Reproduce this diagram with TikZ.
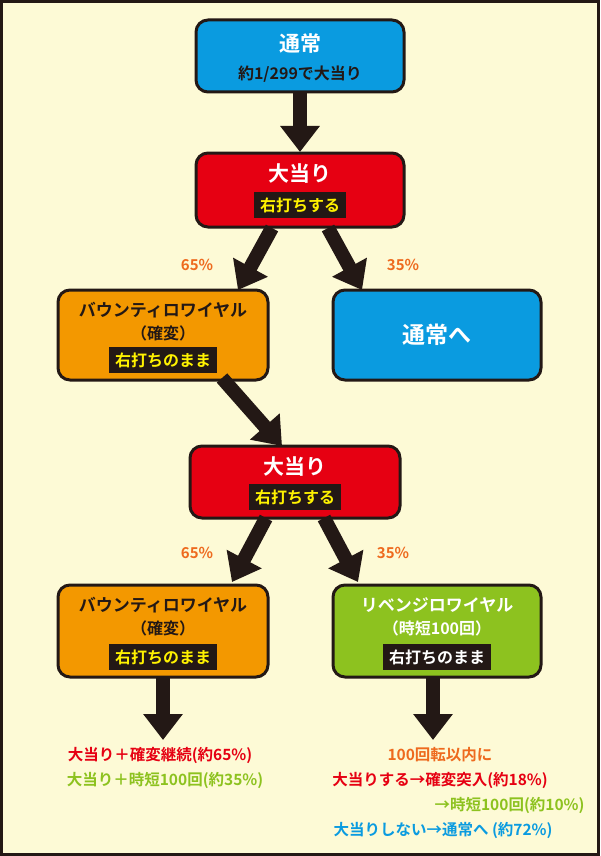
\documentclass[tikz,border=0pt]{standalone}
\usepackage{fontspec}
\setmainfont{Noto Sans CJK JP}[BoldFont={* Bold}]
\usetikzlibrary{arrows.meta}
\definecolor{bg}{HTML}{FDFAD6}
\definecolor{bblue}{HTML}{0A9BE0}
\definecolor{bred}{HTML}{E60012}
\definecolor{borange}{HTML}{F39800}
\definecolor{bgreen}{HTML}{8DC21F}
\definecolor{torange}{HTML}{EE6A1E}
\definecolor{dark}{HTML}{231815}
\begin{document}
\begin{tikzpicture}[x=1pt,y=-1pt,
 box/.style={draw=dark,line width=3pt,rounded corners=12pt},
 big/.style={arrow,line width=14pt,-{Triangle[length=26pt,width=38pt]}},
 arrow/.style={draw=dark},
 ttl/.style={font=\bfseries\fontsize{21}{21}\selectfont,text=white},
 sub/.style={font=\bfseries\fontsize{16}{16}\selectfont,text=dark},
 lab/.style={fill=dark,font=\bfseries\fontsize{16}{16}\selectfont,inner xsep=6pt,inner ysep=3pt,minimum height=26pt},
 pct/.style={font=\bfseries\fontsize{15}{15}\selectfont,text=torange},
 res/.style={font=\bfseries\fontsize{15.5}{15.5}\selectfont}]
\draw[fill=bg,draw=dark,line width=3pt] (1.5,1.5) rectangle (598.5,854.5);
\useasboundingbox (0,0) rectangle (600,856);
% box 1
\path[box,fill=bblue] (196,20) rectangle (404,92);
\node[ttl] (t1) at (300,44) {通常};
\node[sub] (s1) at (300,74) {約1/299で大当り};
\coordinate (a1s) at (300,92); \coordinate (a1e) at (300,152);
\draw[big] (a1s) -- (a1e);
% box 2
\path[box,fill=bred] (196,153) rectangle (404,227);
\node[ttl] (t2) at (300,174) {大当り};
\node[lab,text=yellow] (l2) at (300,205) {右打ちする};
\coordinate (a2s) at (272,228); \coordinate (a2e) at (238,290);
\coordinate (a3s) at (328,228); \coordinate (a3e) at (362,290);
\draw[big] (a2s) -- (a2e); \draw[big] (a3s) -- (a3e);
\node[pct] (p1) at (197,265) {65\%};
\node[pct] (p2) at (403,265) {35\%};
% box 3
\path[box,fill=borange] (58,290) rectangle (268,380);
\node[sub,font=\bfseries\fontsize{17}{17}\selectfont] (t3) at (163,310) {バウンティロワイヤル};
\node[sub] (s3) at (163,333) {（確変）};
\node[lab,text=yellow] (l3) at (163,360) {右打ちのまま};
% box 4
\path[box,fill=bblue] (333,290) rectangle (541,380);
\node[ttl,font=\bfseries\fontsize{23}{23}\selectfont] (t4) at (437,335) {通常へ};
\coordinate (a4s) at (222,378); \coordinate (a4e) at (282,446);
\draw[big] (a4s) -- (a4e);
% box 5
\path[box,fill=bred] (190,446) rectangle (400,518);
\node[ttl] (t5) at (295,467) {大当り};
\node[lab,text=yellow] (l5) at (295,497) {右打ちする};
\coordinate (a5s) at (266,518); \coordinate (a5e) at (232,582);
\coordinate (a6s) at (324,518); \coordinate (a6e) at (358,582);
\draw[big] (a5s) -- (a5e); \draw[big] (a6s) -- (a6e);
\node[pct] (p3) at (197,553) {65\%};
\node[pct] (p4) at (393,553) {35\%};
% box 6
\path[box,fill=borange] (58,585) rectangle (268,677);
\node[sub,font=\bfseries\fontsize{17}{17}\selectfont] (t6) at (163,605) {バウンティロワイヤル};
\node[sub] (s6) at (163,628) {（確変）};
\node[lab,text=yellow] (l6) at (163,657) {右打ちのまま};
% box 7
\path[box,fill=bgreen] (333,585) rectangle (541,677);
\node[sub,font=\bfseries\fontsize{17}{17}\selectfont,text=white] (t7) at (437,605) {リベンジロワイヤル};
\node[sub,text=white] (s7) at (437,628) {（時短100回）};
\node[lab,text=white] (l7) at (437,657) {右打ちのまま};
\coordinate (a7s) at (163,677); \coordinate (a7e) at (163,740);
\coordinate (a8s) at (433,677); \coordinate (a8e) at (433,740);
\draw[big] (a7s) -- (a7e); \draw[big] (a8s) -- (a8e);
% results
\node[res,text=bred] (r1) at (160,755) {大当り＋確変継続(約65\%)};
\node[res,text=bgreen] (r2) at (165,780) {大当り＋時短100回(約35\%)};
\node[res,text=torange] (r3) at (440,755) {100回転以内に};
\node[res,text=bred] (r4) at (440,780) {大当りする→確変突入(約18\%)};
\node[res,text=bgreen,anchor=east] (r5) at (588,805) {→時短100回(約10\%)};
\node[res,text=bblue] (r6) at (443,830) {大当りしない→通常へ (約72\%)};
\end{tikzpicture}
\end{document}
